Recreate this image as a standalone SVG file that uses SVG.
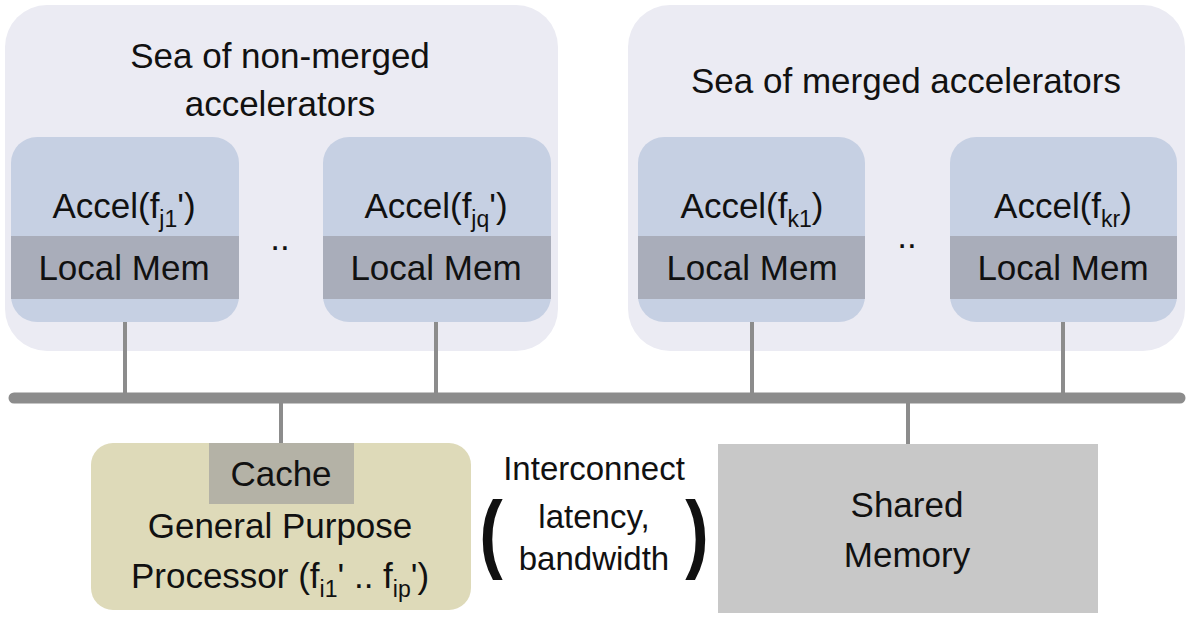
<svg xmlns="http://www.w3.org/2000/svg" width="1190" height="619" viewBox="0 0 1190 619">
<style>
text{font-family:"Liberation Sans",Arial,sans-serif;fill:#111;text-anchor:middle}
.t{font-size:35px}
.s{font-size:23px}
.sea{fill:#ebebf3}
.acc{fill:#c6d0e3}
.mem{fill:#a9adba}
.wire{stroke:#8c8c8c;stroke-width:4;fill:none}
.par{font-size:88px;font-weight:bold}
</style>
<rect width="1190" height="619" fill="#ffffff"/>
<g id="sea-nonmerged">
<rect class="sea" x="5" y="5" width="553" height="346" rx="42"/>
<text class="t" x="280" y="68">Sea of non-merged</text>
<text class="t" x="280" y="116">accelerators</text>
<text class="t" x="280" y="250">..</text>
</g>
<g id="sea-merged">
<rect class="sea" x="628" y="5" width="557" height="346" rx="42"/>
<text class="t" x="906" y="93">Sea of merged accelerators</text>
<text class="t" x="907" y="248">..</text>
</g>
<g id="accel-j1">
<rect class="acc" x="11" y="137" width="228" height="185" rx="26"/>
<rect class="mem" x="11" y="236" width="228" height="63"/>
<text class="t" x="124" y="218">Accel(f<tspan class="s" dy="9">j1</tspan><tspan dy="-9">')</tspan></text>
<text class="t" x="124" y="280">Local Mem</text>
</g>
<g id="accel-jq">
<rect class="acc" x="323" y="137" width="228" height="185" rx="26"/>
<rect class="mem" x="323" y="236" width="228" height="63"/>
<text class="t" x="436" y="218">Accel(f<tspan class="s" dy="9">jq</tspan><tspan dy="-9">')</tspan></text>
<text class="t" x="436" y="280">Local Mem</text>
</g>
<g id="accel-k1">
<rect class="acc" x="638" y="137" width="227" height="185" rx="26"/>
<rect class="mem" x="638" y="236" width="227" height="63"/>
<text class="t" x="752" y="218">Accel(f<tspan class="s" dy="9">k1</tspan><tspan dy="-9">)</tspan></text>
<text class="t" x="752" y="280">Local Mem</text>
</g>
<g id="accel-kr">
<rect class="acc" x="950" y="137" width="227" height="185" rx="26"/>
<rect class="mem" x="950" y="236" width="227" height="63"/>
<text class="t" x="1063" y="218">Accel(f<tspan class="s" dy="9">kr</tspan><tspan dy="-9">)</tspan></text>
<text class="t" x="1063" y="280">Local Mem</text>
</g>
<g id="connectors">
<line x1="14" y1="398" x2="1180" y2="398" stroke="#8c8c8c" stroke-width="11" stroke-linecap="round"/>
<line class="wire" x1="125" y1="322" x2="125" y2="398"/>
<line class="wire" x1="436" y1="322" x2="436" y2="398"/>
<line class="wire" x1="752" y1="322" x2="752" y2="398"/>
<line class="wire" x1="1063" y1="322" x2="1063" y2="398"/>
<line class="wire" x1="281" y1="398" x2="281" y2="444"/>
<line class="wire" x1="908" y1="398" x2="908" y2="445"/>
</g>
<g id="gpp">
<rect x="91" y="443" width="380" height="167" rx="22" fill="#dedab9"/>
<rect x="209" y="443" width="145" height="61" fill="#b4b2a6"/>
<text class="t" x="281" y="486">Cache</text>
<text class="t" x="280" y="538">General Purpose</text>
<text class="t" x="280" y="588">Processor (f<tspan class="s" dy="9">i1</tspan><tspan dy="-9">' .. f</tspan><tspan class="s" dy="9">ip</tspan><tspan dy="-9">')</tspan></text>
</g>
<g id="interconnect-label">
<text class="t" x="594" y="480" style="font-size:33px">Interconnect</text>
<text class="t" x="594" y="528" style="font-size:33px">latency,</text>
<text class="t" x="594" y="570" style="font-size:33px">bandwidth</text>
<text class="par" transform="translate(491,562) scale(0.8,1)">(</text>
<text class="par" transform="translate(697,562) scale(0.8,1)">)</text>
</g>
<g id="shared-memory">
<rect x="718" y="444" width="380" height="169" fill="#c8c8c8"/>
<text class="t" x="907" y="517">Shared</text>
<text class="t" x="907" y="567">Memory</text>
</g>
</svg>
